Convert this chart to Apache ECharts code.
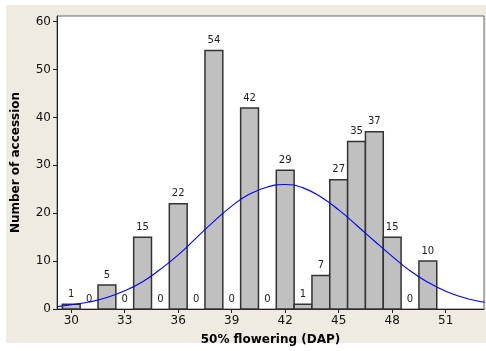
<!DOCTYPE html>
<html>
<head>
<meta charset="utf-8">
<script src="https://cdn.jsdelivr.net/npm/echarts@6/dist/echarts.min.js"></script>
<style>
html,body{margin:0;padding:0;background:#fff;}
#bg{position:absolute;left:6px;top:5px;width:480px;height:338px;background:#efebe1;}
#c{position:absolute;left:0;top:0;width:486px;height:351px;}
</style>
</head>
<body>
<div id="bg"></div>
<div id="c"></div>
<script>
// Bin centres (DAP) and counts
const binCenters = [30,31,32,33,34,35,36,37,38,39,40,41,42,43,44,45,46,47,48,49,50];
const counts     = [1, 0, 5, 0, 15,0, 22,0, 54,0, 42,0, 29,1, 7, 27,35,37,15,0, 10];
// Fitted normal curve
const curveX = [29.2,30,31,32,33,34,35,36,37,38,39,40,41,42,43,44,45,46,47,48,49,50,51,52,53,53.2];
const curveY = [0.5,0.9,1.45,2.4,3.8,5.7,8.3,11.3,14.8,18.3,21.5,24.0,25.5,26.0,25.3,23.4,20.7,17.5,14.2,11.0,8.0,5.6,3.7,2.4,1.5,1.4];
const xTicks = [30,33,36,39,42,45,48,51];
const yTicks = [0,10,20,30,40,50,60];

const barData = binCenters.map((x,i)=>[x,counts[i]]);
const lineData = curveX.map((x,i)=>[x,curveY[i]]);
const FONT = 'DejaVu Sans';

const chart = echarts.init(document.getElementById('c'), null, {renderer:'canvas'});
chart.setOption({
  animation:false,
  backgroundColor:'transparent',
  grid:{left:57, right:2, top:16, bottom:42, show:true, backgroundColor:'#fff', borderColor:'#666', borderWidth:1},
  xAxis:{
    type:'value', min:29.2, max:53.15,
    name:'50% flowering (DAP)', nameLocation:'middle', nameGap:25,
    nameTextStyle:{fontFamily:FONT, fontSize:12, fontWeight:'bold', color:'#000'},
    axisLine:{show:true, onZero:false, lineStyle:{color:'#222', width:1}},
    axisTick:{show:true, inside:false, length:4, customValues:xTicks, lineStyle:{color:'#222'}},
    axisLabel:{customValues:xTicks, fontFamily:FONT, fontSize:12, color:'#111', margin:6},
    splitLine:{show:false}
  },
  yAxis:{
    type:'value', min:0, max:61.2, interval:10,
    name:'Number of accession', nameLocation:'middle', nameGap:35,
    nameTextStyle:{fontFamily:FONT, fontSize:12, fontWeight:'bold', color:'#000'},
    axisLine:{show:true, lineStyle:{color:'#222', width:1}},
    axisTick:{show:true, inside:false, length:4, customValues:yTicks, lineStyle:{color:'#222'}},
    axisLabel:{customValues:yTicks, fontFamily:FONT, fontSize:12, color:'#111', margin:6},
    splitLine:{show:false}
  },
  series:[
    {
      type:'custom', z:2,
      data:barData,
      renderItem:function(params, api){
        const x = api.value(0), y = api.value(1);
        const p0 = api.coord([x-0.5, y]);
        const p1 = api.coord([x+0.5, 0]);
        const children = [];
        if (y > 0) {
          children.push({type:'rect', shape:{x:p0[0], y:p0[1], width:p1[0]-p0[0], height:p1[1]-p0[1]},
            style:{fill:'#c0c0c0', stroke:'#333', lineWidth:1.5}});
        }
        children.push({type:'text', z2:5, style:{text:String(y), x:(p0[0]+p1[0])/2, y:p0[1]-5,
          align:'center', verticalAlign:'bottom', font:'10px "DejaVu Sans"', fill:'#222'}});
        return {type:'group', children:children};
      }
    },
    {
      type:'line', z:5, data:lineData, smooth:true, showSymbol:false,
      lineStyle:{color:'#0000ff', width:1.1}
    }
  ]
});
</script>
</body>
</html>
